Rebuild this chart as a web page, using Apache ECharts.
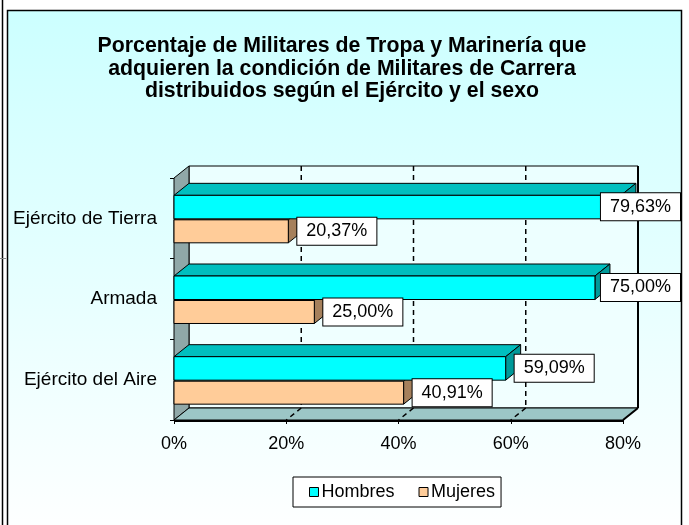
<!DOCTYPE html>
<html><head><meta charset="utf-8">
<script src="https://cdn.jsdelivr.net/npm/echarts@6/dist/echarts.min.js"></script>
<style>html,body{margin:0;padding:0;background:#fff}#c{width:689px;height:525px}</style>
</head><body><div id="c"></div>
<script>
const categories = ['Ejército de Tierra', 'Armada', 'Ejército del Aire'];
const hombres = [79.63, 75.00, 59.09];
const mujeres = [20.37, 25.00, 40.91];
const xTicks = [0, 20, 40, 60, 80];
const titleText = 'Porcentaje de Militares de Tropa y Marinería que\nadquieren la condición de Militares de Carrera\ndistribuidos según el Ejército y el sexo';

const FONT = '"Liberation Sans", Arial, sans-serif';
const DX = 15, DY = 12;
const LABEL_RIGHT_LIMIT = 680;
const measureCtx = document.createElement('canvas').getContext('2d');
measureCtx.font = '18px ' + FONT;
function fmt(v) { return v.toFixed(2).replace('.', ',') + '%'; }

function barRender(kind) {
  const cols = kind === 'h'
    ? { front: '#00FFFF', top: '#00BFBF', side: '#009999' }
    : { front: '#FFCC99', top: '#CCA37A', side: '#A6805C' };
  return function (params, api) {
    const v = api.value(0), ci = api.value(1);
    const p0 = api.coord([0, ci]);
    const p1 = api.coord([v, ci]);
    const bw = api.size([0, 1])[1];
    const h = 0.285 * bw;
    let yTop, yBot;
    if (kind === 'h') { yTop = p0[1] - h; yBot = p0[1] + 0.5; }
    else { yTop = p0[1] + 1.5; yBot = p0[1] + 1.5 + h; }
    const x0 = p0[0], x1 = p1[0];
    const st = { stroke: '#000', lineWidth: 1 };
    return {
      type: 'group',
      children: [
        { type: 'polygon', shape: { points: [[x0, yTop], [x0 + DX, yTop - DY], [x1 + DX, yTop - DY], [x1, yTop]] }, style: Object.assign({ fill: cols.top }, st) },
        { type: 'polygon', shape: { points: [[x1, yTop], [x1 + DX, yTop - DY], [x1 + DX, yBot - DY], [x1, yBot]] }, style: Object.assign({ fill: cols.side }, st) },
        { type: 'rect', shape: { x: x0, y: yTop, width: x1 - x0, height: yBot - yTop }, style: Object.assign({ fill: cols.front }, st) }
      ]
    };
  };
}

function labelRender(kind) {
  return function (params, api) {
    const v = api.value(0), ci = api.value(1);
    const p0 = api.coord([0, ci]);
    const p1 = api.coord([v, ci]);
    const bw = api.size([0, 1])[1];
    const h = 0.285 * bw;
    const yc = kind === 'h' ? p0[1] - h / 2 : p0[1] + 1.5 + h / 2;
    const txt = fmt(v);
    const w = measureCtx.measureText(txt).width + 18;
    const x = Math.min(p1[0] + 9, LABEL_RIGHT_LIMIT - w);
    return {
      type: 'text',
      style: {
        text: txt, x: x, y: yc, align: 'left', verticalAlign: 'middle',
        fill: '#000', font: '18px ' + FONT,
        backgroundColor: '#fff', borderColor: '#000', borderWidth: 1,
        padding: [5, 9, 4, 9]
      }
    };
  };
}

function frameRender(params, api) {
  const bw = api.size([0, 1])[1];
  const yFT = api.coord([0, 0])[1] - bw / 2;
  const yFB = api.coord([0, categories.length - 1])[1] + bw / 2;
  const xL = api.coord([xTicks[0], 0])[0];
  const xR = api.coord([xTicks[xTicks.length - 1], 0])[0];
  const ch = [];
  ch.push({ type: 'rect', shape: { x: xL + DX, y: yFT - DY, width: xR - xL, height: yFB - yFT }, style: { fill: 'rgba(240,255,255,0.75)', stroke: '#000', lineWidth: 1 } });
  ch.push({ type: 'polygon', shape: { points: [[xL, yFT], [xL + DX, yFT - DY], [xL + DX, yFB - DY], [xL, yFB]] }, style: { fill: '#90A8A8', stroke: '#000', lineWidth: 1 } });
  ch.push({ type: 'polygon', shape: { points: [[xL, yFB], [xL + DX, yFB - DY], [xR + DX, yFB - DY], [xR, yFB]] }, style: { fill: '#9CC6C6', stroke: '#000', lineWidth: 1 } });
  xTicks.slice(1, -1).forEach(t => {
    const x = api.coord([t, 0])[0];
    ch.push({ type: 'line', shape: { x1: x + DX, y1: yFT - DY, x2: x + DX, y2: yFB - DY }, style: { stroke: '#000', lineWidth: 1.5, lineDash: [5, 4] } });
    ch.push({ type: 'line', shape: { x1: x + DX, y1: yFB - DY, x2: x, y2: yFB }, style: { stroke: '#000', lineWidth: 1.5, lineDash: [5, 4] } });
  });
  ch.push({ type: 'line', shape: { x1: xR + DX, y1: yFT - DY, x2: xR + DX, y2: yFB - DY }, style: { stroke: '#000', lineWidth: 2 } });
  ch.push({ type: 'line', shape: { x1: xR + DX, y1: yFB - DY, x2: xR, y2: yFB }, style: { stroke: '#000', lineWidth: 2 } });
  ch.push({ type: 'line', shape: { x1: xL, y1: yFB + 1, x2: xR, y2: yFB + 1 }, style: { stroke: '#000', lineWidth: 2 } });
  return { type: 'group', children: ch };
}

const chart = echarts.init(document.getElementById('c'), null, { renderer: 'canvas' });
chart.setOption({
  backgroundColor: '#fff',
  animation: false,
  textStyle: { fontFamily: FONT },
  graphic: [
    { type: 'line', z: -10, shape: { x1: 2.5, y1: 0, x2: 2.5, y2: 525 }, style: { stroke: '#000', lineWidth: 1.5 } },
    { type: 'line', z: -10, shape: { x1: 0, y1: 258.5, x2: 6, y2: 258.5 }, style: { stroke: '#888', lineWidth: 1 } },
    { type: 'rect', z: -10, shape: { x: 7.5, y: 10.5, width: 674, height: 530 },
      style: { fill: new echarts.graphic.LinearGradient(0, 0, 0, 1, [{ offset: 0, color: '#CCFFFF' }, { offset: 1, color: '#FFFFFF' }]), stroke: '#000', lineWidth: 1.5 } }
  ],
  title: {
    text: titleText, left: 337, top: 30, textAlign: 'center',
    textStyle: { fontFamily: FONT, fontSize: 21.3, fontWeight: 'bold', color: '#000', lineHeight: 22.5 }
  },
  legend: {
    data: ['Hombres', 'Mujeres'], left: 293, top: 477,
    padding: [6, 6, 6, 16], itemGap: 24, itemWidth: 9, itemHeight: 9, icon: 'rect',
    itemStyle: { borderColor: '#000', borderWidth: 1 },
    backgroundColor: '#fff', borderColor: '#000', borderWidth: 1,
    textStyle: { fontFamily: FONT, fontSize: 18, color: '#000', padding: [0, 0, 0, -2] }
  },
  grid: { left: 174, right: 66, top: 178, bottom: 105, containLabel: false },
  xAxis: {
    type: 'value', min: 0, max: 80, interval: 20,
    axisLine: { show: false }, splitLine: { show: false },
    axisTick: { show: true, length: 4, lineStyle: { color: '#000' } },
    axisLabel: { formatter: '{value}%', fontFamily: FONT, fontSize: 18, color: '#000', margin: 15 }
  },
  yAxis: {
    type: 'category', data: categories, inverse: true,
    axisLine: { show: false }, splitLine: { show: false },
    axisTick: { show: true, length: 4, lineStyle: { color: '#000' } },
    axisLabel: { fontFamily: FONT, fontSize: 19, color: '#000', margin: 17 }
  },
  series: [
    { type: 'custom', name: 'frame', z: 1, silent: true, renderItem: frameRender, data: [[0, 0]], encode: { x: 0, y: 1 } },
    { type: 'custom', name: 'Mujeres', z: 3, itemStyle: { color: '#FFCC99' }, renderItem: barRender('m'),
      data: mujeres.map((v, i) => [v, i]), encode: { x: 0, y: 1 } },
    { type: 'custom', name: 'Hombres', z: 4, itemStyle: { color: '#00FFFF' }, renderItem: barRender('h'),
      data: hombres.map((v, i) => [v, i]), encode: { x: 0, y: 1 } },
    { type: 'custom', name: 'lblM', z: 10, renderItem: labelRender('m'), data: mujeres.map((v, i) => [v, i]), encode: { x: 0, y: 1 } },
    { type: 'custom', name: 'lblH', z: 10, renderItem: labelRender('h'), data: hombres.map((v, i) => [v, i]), encode: { x: 0, y: 1 } }
  ]
});
</script></body></html>
